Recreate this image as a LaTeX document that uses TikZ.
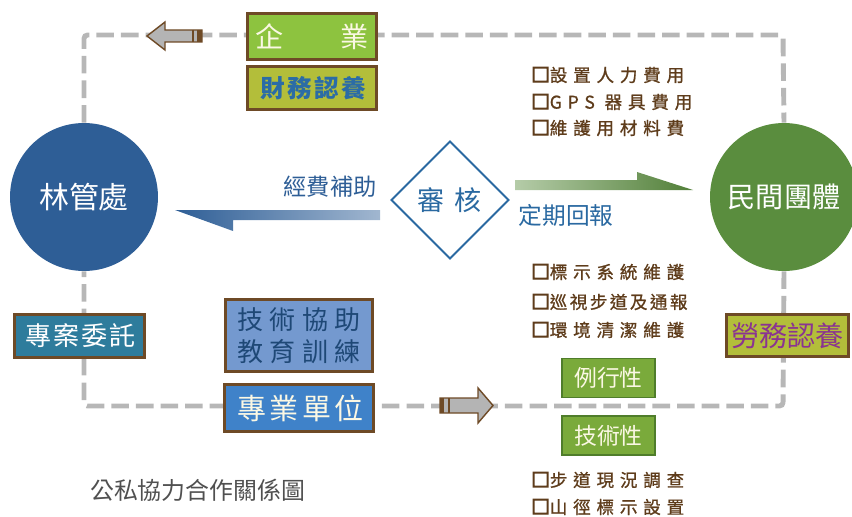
\documentclass[tikz,border=0pt]{standalone}
\usepackage{fontspec}
\setmainfont{Noto Sans CJK TC}
\usetikzlibrary{shapes.geometric, positioning, backgrounds}

\definecolor{lineg}{HTML}{B7B7B7}
\definecolor{brownb}{HTML}{6E4A26}
\definecolor{entg}{HTML}{8DC33F}
\definecolor{oliveb}{HTML}{B3BE3A}
\definecolor{cream}{HTML}{FBF8E4}
\definecolor{finblue}{HTML}{2B6CA6}
\definecolor{purp}{HTML}{8A3491}
\definecolor{tealb}{HTML}{2E7C9C}
\definecolor{tecblue}{HTML}{7499CF}
\definecolor{tectext}{HTML}{1E4876}
\definecolor{problue}{HTML}{3F82C9}
\definecolor{linblue}{HTML}{2E5E96}
\definecolor{ming}{HTML}{5A8D3E}
\definecolor{tagg}{HTML}{7AAA3B}
\definecolor{tagline}{HTML}{4F7D2B}
\definecolor{diablue}{HTML}{2A69A1}
\definecolor{listb}{HTML}{5E3C1B}
\definecolor{capg}{HTML}{505050}
\definecolor{arrg}{HTML}{B4B4B4}

\newcommand{\fs}[1]{\fontsize{#1}{#1}\selectfont}
\newcommand{\ls}[1]{\addfontfeature{LetterSpace=#1}}
\newcommand{\spaced}[2]{{\ls{#1}#2}\hspace{-\dimexpr 0.01em*#1\relax}}
\newcommand{\bul}{{\fs{10.5}\addfontfeature{FakeBold=7}□}}

\begin{document}
\begin{tikzpicture}[x=0.02cm, y=-0.02cm,
    box/.style={draw=brownb, line width=1.7pt, inner sep=0pt, align=center},
    tag/.style={draw=tagline, line width=0.9pt, fill=tagg, text=cream, inner sep=0pt,
      minimum width=1.85cm, minimum height=0.78cm, font=\fs{13}},
    ball/.style={circle, minimum size=2.96cm, inner sep=0pt, text=white},
    item/.style={anchor=west, inner sep=0pt, text=listb, font=\fs{10}},
    gline/.style={lineg, line width=2.8pt, dash pattern=on 10pt off 4pt, rounded corners=2pt},
    marr/.style={draw=brownb, fill=arrg, line width=0.8pt, line join=miter}]
    \useasboundingbox (0,0) rectangle (852,517);

    % two sides
    \node[ball, fill=linblue, font=\fs{17}] (lin) at (84,197) {林管處};
    \node[ball, fill=ming, font=\fs{16}] (min) at (784,197) {民間團體};
    \node[diamond, draw=diablue, line width=1.1pt, minimum width=2.36cm, minimum height=2.36cm,
      inner sep=0pt, text=diablue, font=\fs{15.4}] (chk) at (450,200) {\spaced{37}{審核}};

    % boxes
    \node[box, fill=entg, text=cream, minimum width=2.58cm, minimum height=0.92cm, font=\fs{16}] (ent) at (312,36.5) {企　　業};
    \node[box, fill=oliveb, text=finblue, minimum width=2.58cm, minimum height=0.86cm, font=\fs{14}\bfseries,
      below=0.08cm of ent] (fin) {\spaced{10}{財務認養}};
    \node[box, fill=tealb, text=white, minimum width=2.6cm, minimum height=0.86cm, font=\fs{14.8}] (cmm) at (79.5,336) {\spaced{8}{專案委託}};
    \node[box, fill=problue, text=cream, minimum width=2.98cm, minimum height=0.94cm, font=\fs{16.5}] (pro) at (299,408) {\spaced{12}{專業單位}};
    \node[box, fill=tecblue, text=tectext, minimum width=2.96cm, minimum height=1.44cm, font=\fontsize{14.8}{18.2}\selectfont,
      above=0.2cm of pro] (tec) {\spaced{25}{技術協助}\\\spaced{25}{教育訓練}};
    \node[box, fill=oliveb, text=purp, minimum width=2.44cm, minimum height=0.84cm, font=\fs{16}] (lab) at (787.5,335.5) {勞務認養};
    \node[tag] (rou) at (608.5,378) {例行性};
    \node[tag, below=0.34cm of rou] (skl) {技術性};

    % dashed loop
    \begin{scope}[on background layer]
      \coordinate (tl) at (84,35);
      \coordinate (tr) at (783,35);
      \coordinate (br) at (783,406);
      \coordinate (bl) at (84,406);
      \draw[gline] (lin.north) -- (tl) -- (tr) -- (min.north);
      \draw[gline] (min.south) -- (br) -- (bl) -- (lin.south);
    \end{scope}

    % arrows on the loop
    \draw[marr] (147,36) -- (165,22) -- (165,30) -- (202,30) -- (202,42) -- (165,42) -- (165,50) -- cycle;
    \draw[brownb, line width=0.6pt] (193,30) -- (193,42);
    \fill[brownb] (197,30) rectangle (202,42);
    \draw[marr] (493,405.5) -- (478,388) -- (478,398) -- (440,398) -- (440,413) -- (478,413) -- (478,423) -- cycle;
    \fill[brownb] (440,398) rectangle (444,413);
    \draw[brownb, line width=0.6pt] (449,398) -- (449,413);

    % flows
    \shade[left color=linblue, right color=linblue!45] (380,210) -- (175,210) -- (233,231) -- (233,220) -- (380,220) -- cycle;
    \shade[left color=ming!45, right color=ming!90!black] (515,180) -- (637,180) -- (637,172) -- (693,190) -- (515,190) -- cycle;
    \node[text=linblue, font=\fs{13.2}] (sub) at (330,187) {經費補助};
    \node[text=diablue, font=\fs{13.5}] (rep) at (566,215) {定期回報};

    % lists
    \foreach \n/\y/\s/\t in {1/75/33/設置人力費用, 2/102/33/GPS 器具費用, 3/128/33/維護用材料費,
        4/272/33/標示系統維護, 5/302/14/巡視步道及通報, 6/330/33/環境清潔維護,
        7/480/33/步道現況調查, 8/507/33/山徑標示設置}
    \node[item] (i\n) at (531,\y) {\bul{\addfontfeature{FakeBold=1}\ls{\s}\t}};

    \node[anchor=west, text=capg, font=\fs{13.6}] (cap) at (84,490) {公私協力合作關係圖};
\end{tikzpicture}
\end{document}
